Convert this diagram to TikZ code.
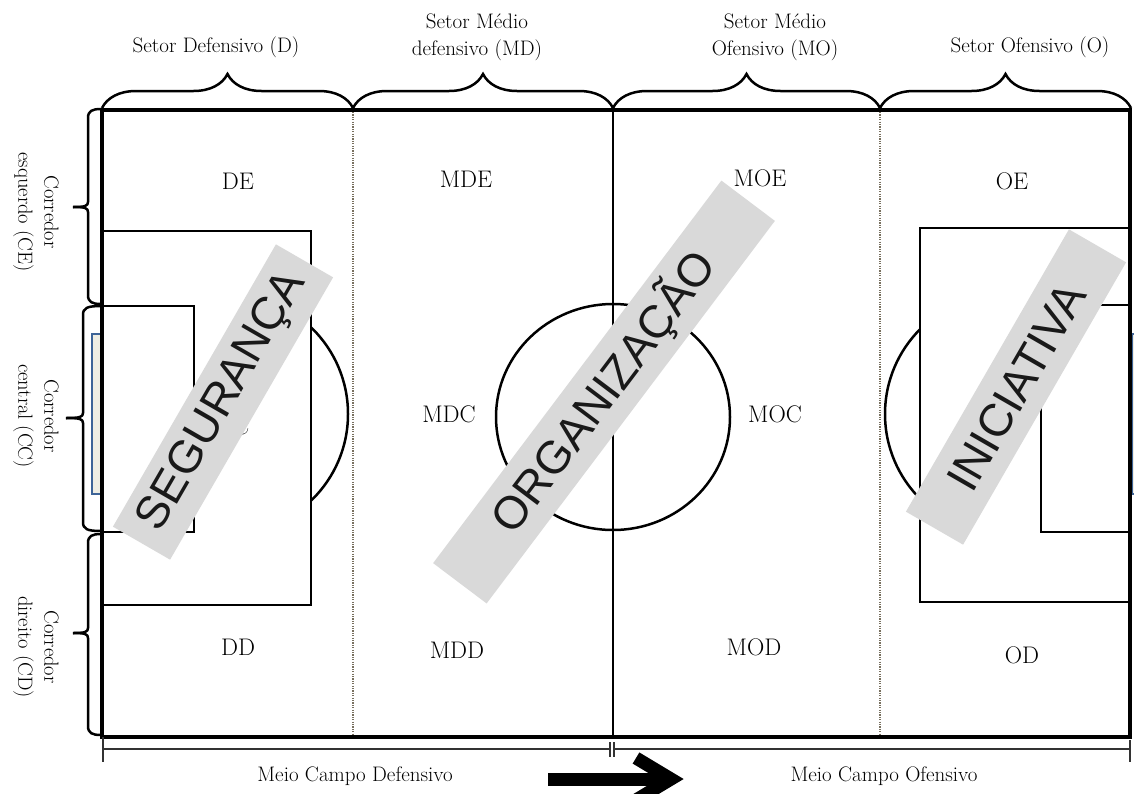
\documentclass[tikz,border=0pt]{standalone}
\usepackage{fontspec}
\newfontfamily\bandfont{Liberation Sans}
\usetikzlibrary{decorations.pathreplacing}
\definecolor{bandgray}{RGB}{217,217,217}
\definecolor{goalblue}{RGB}{62,100,151}
\definecolor{goalfill}{RGB}{238,237,227}
\definecolor{dotcol}{RGB}{120,112,95}
\begin{document}
\begin{tikzpicture}[x=1pt,y=-1pt,
  outerline/.style={line width=3.2pt},
  pitchline/.style={line width=2.5pt},
  dotline/.style={line width=1.2pt, dotcol, dash pattern=on 1.2pt off 1.2pt},
  lbl/.style={font=\fontsize{24}{28}\selectfont, inner sep=0pt},
  toplbl/.style={font=\fontsize{21}{27}\selectfont, align=center, inner sep=0pt},
  sidelbl/.style={font=\fontsize{20.5}{26}\selectfont, align=center, rotate=-90, inner sep=0pt},
  bottomlbl/.style={font=\fontsize{21}{25}\selectfont, inner sep=0pt},
  band/.style={fill=bandgray, minimum width=326pt, minimum height=66pt, inner sep=0pt, text=black!90, font=\bandfont\fontsize{46}{50}\selectfont},
  curlybrace/.style={decorate, decoration={brace, amplitude=34pt}, line width=2.5pt},
  dimline/.style={line width=1.1pt, black!80},
  bracketline/.style={line width=2.5pt, line join=round},
  goalbox/.style={draw=goalblue, fill=goalfill, line width=1.8pt}
]
\useasboundingbox (0,0) rectangle (1134,793);
\fill[white] (0,0) rectangle (1134,793);

% hidden label (mostly covered by the band)
\node[lbl] (dc) at (233,426) {DC};

% goals
\draw[goalbox] (92,334) rectangle (101,494);
\draw[goalbox] (1132,334) rectangle (1144,494);

% pitch markings
\draw[pitchline] (102,231) rectangle (311,605);
\draw[pitchline] (102,306) rectangle (194,532);
\draw[pitchline] (920,228) rectangle (1130,602);
\draw[pitchline] (1041,305) rectangle (1130,532);
\begin{scope}
  \clip (311,0) rectangle (420,793);
  \draw[pitchline] (228,414) circle[radius=120pt];
\end{scope}
\begin{scope}
  \clip (800,0) rectangle (920,793);
  \draw[pitchline] (1005,414) circle[radius=120pt];
\end{scope}
\draw[pitchline] (613,417) ellipse[x radius=117pt, y radius=113pt];
\draw[pitchline] (613,110) -- (613,737);
\draw[dotline] (353,112) -- (353,735);
\draw[dotline] (880,112) -- (880,735);
\draw[outerline] (102,110) rectangle (1130,737);

% top braces
\draw[curlybrace] (102,108) -- (353,108);
\draw[curlybrace] (353,108) -- (613,108);
\draw[curlybrace] (613,108) -- (880,108);
\draw[curlybrace] (880,108) -- (1131,108);

% left brackets
\foreach \bx/\ta/\tb/\tm/\tx in {88/109/304/207/73, 83/306/531/418/66, 88/534/735/633/73}{
  \draw[bracketline] (101,\ta) .. controls ({\bx+4},\ta) and (\bx,{\ta+2}) .. (\bx,{\ta+9})
     -- (\bx,{\tm-5}) .. controls (\bx,{\tm-1}) and ({\bx-3},\tm) .. (\tx,\tm);
  \draw[bracketline] (\tx,\tm) .. controls ({\bx-3},\tm) and (\bx,{\tm+1}) .. (\bx,{\tm+5})
     -- (\bx,{\tb-9}) .. controls (\bx,{\tb-2}) and ({\bx+4},\tb) .. (101,\tb);
}

% top labels
\node[toplbl] (sd) at (216,47) {Setor Defensivo (D)};
\node[toplbl] (smd) at (477,37) {Setor Médio\\defensivo (MD)};
\node[toplbl] (smo) at (775,37) {Setor Médio\\Ofensivo (MO)};
\node[toplbl] (so) at (1030,47) {Setor Ofensivo (O)};

% side labels
\node[sidelbl] (ce) at (36,212) {Corredor\\esquerdo (CE)};
\node[sidelbl] (cc) at (36,416) {Corredor\\central (CC)};
\node[sidelbl] (cd) at (36,647) {Corredor\\direito (CD)};

% zone labels
\node[lbl] (de) at (238,181) {DE};
\node[lbl] (mde) at (466,179) {MDE};
\node[lbl] (moe) at (760,178) {MOE};
\node[lbl] (oe) at (1012,181) {OE};
\node[lbl] (mdc) at (449,414) {MDC};
\node[lbl] (moc) at (775,414) {MOC};
\node[lbl] (dd) at (238,647) {DD};
\node[lbl] (mdd) at (457,650) {MDD};
\node[lbl] (mod) at (754,647) {MOD};
\node[lbl] (od) at (1022,655) {OD};

% bands
\node[band, rotate=60] (seg) at (223,402) {SEGURANÇA};
\node[band, rotate=53, minimum width=479pt, minimum height=67pt] (org) at (604,392) {ORGANIZAÇÃO};
\node[band, rotate=60] (ini) at (1016,387) {INICIATIVA};

% bottom dimension lines
\draw[dimline] (103,737) -- (103,762);
\draw[dimline] (103,749) -- (610,749);
\draw[dimline] (610,742) -- (610,757);
\draw[dimline] (614,742) -- (614,757);
\draw[dimline] (614,749) -- (1130,749);
\draw[dimline] (1130,740) -- (1130,762);
\node[bottomlbl] (mcd) at (355,776) {Meio Campo Defensivo};
\node[bottomlbl] (mco) at (884,776) {Meio Campo Ofensivo};

% direction arrow
\coordinate (arrA) at (548,779);
\coordinate (arrB) at (668,779);
\draw[line width=13pt] (arrA) -- (arrB);
\draw[line width=13pt, line join=miter] (636,758) -- (671,779) -- (636,800);
\end{tikzpicture}
\end{document}
